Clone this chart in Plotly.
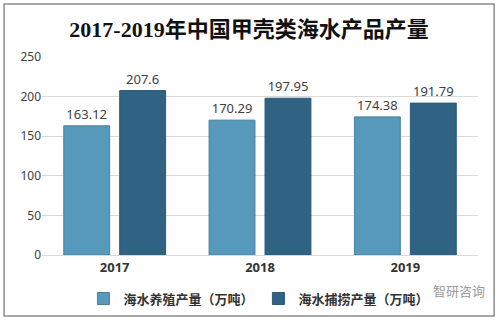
import plotly.graph_objects as go

years = ["2017", "2018", "2019"]
aquaculture = [163.12, 170.29, 174.38]
capture = [207.6, 197.95, 191.79]
labels_aqua = ["163.12", "170.29", "174.38"]
labels_capt = ["207.6", "197.95", "191.79"]
series_names = ["海水养殖产量（万吨）", "海水捕捞产量（万吨）"]
title_text = "2017-2019年中国甲壳类海水产品产量"

fig = go.Figure()
fig.add_trace(go.Bar(
    x=years, y=aquaculture, name=series_names[0],
    text=labels_aqua, textposition="outside", cliponaxis=False,
    textfont=dict(size=13, color="#404040", family="Noto Sans, DejaVu Sans"),
    marker=dict(color="#5799ba", line=dict(color="#4a7f9c", width=1)),
))
fig.add_trace(go.Bar(
    x=years, y=capture, name=series_names[1],
    text=labels_capt, textposition="outside", cliponaxis=False,
    textfont=dict(size=13, color="#404040", family="Noto Sans, DejaVu Sans"),
    marker=dict(color="#2f6283", line=dict(color="#2a5a78", width=1)),
))

fig.update_layout(
    width=498, height=322,
    paper_bgcolor="white", plot_bgcolor="white",
    margin=dict(l=42, r=20, t=57, b=67, autoexpand=False),
    barmode="group", bargap=0.23, bargroupgap=0.18,
    title=dict(text=title_text, x=0.5, xanchor="center", y=0.91, yanchor="middle",
               font=dict(size=22, color="#111111", family="Liberation Serif, Noto Sans CJK SC", weight="bold")),
    showlegend=True,
    legend=dict(orientation="h", x=0.095, xanchor="left", y=-0.22, yanchor="middle",
                font=dict(size=13, color="#333333", family="Noto Sans CJK SC", weight="bold"),
                itemwidth=30, traceorder="normal", entrywidth=130),
    font=dict(family="Noto Sans, DejaVu Sans"),
)
fig.update_yaxes(range=[0, 250], dtick=50, showgrid=True, gridcolor="#d9d9d9", gridwidth=1,
                 zeroline=False, showline=False, ticks="", ticklen=0,
                 tickfont=dict(size=12, color="#404040"))
fig.update_xaxes(showline=True, linecolor="#d9d9d9", linewidth=1, ticks="",
                 tickfont=dict(size=13, color="#333333", weight="bold"))

# outer frame
fig.add_shape(type="rect", xref="paper", yref="paper",
              x0=-0.087, x1=1.037, y0=-0.308, y1=1.268,
              line=dict(color="#8c8c8c", width=1.5), fillcolor="rgba(0,0,0,0)", layer="below")
# watermark
fig.add_annotation(text="智研咨询", xref="paper", yref="paper", x=1.02, y=-0.18,
                   xanchor="right", yanchor="middle", showarrow=False,
                   font=dict(size=13, color="#9a9a9a", family="Noto Sans CJK SC"))

fig.write_html("out.html")
